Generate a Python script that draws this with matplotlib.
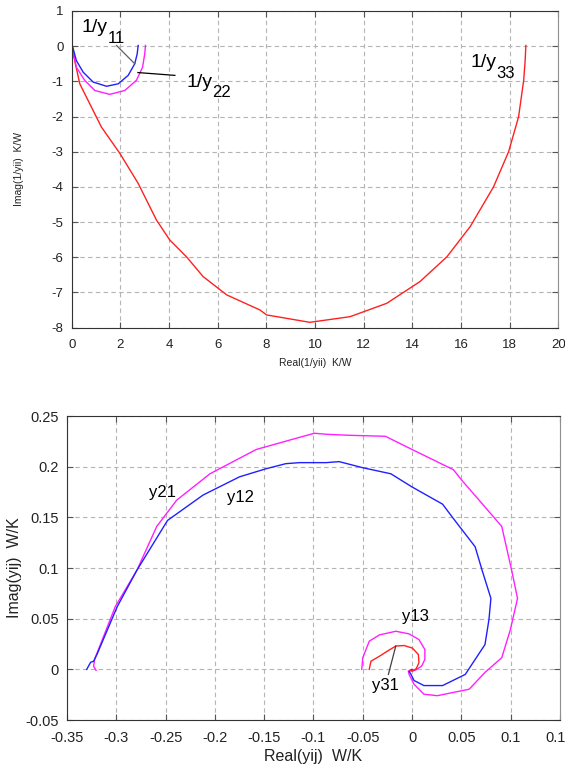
import matplotlib
matplotlib.use("Agg")
import matplotlib.pyplot as plt
from matplotlib.ticker import FuncFormatter, MultipleLocator

plt.rcParams['font.family'] = ['Liberation Sans', 'DejaVu Sans']

# --- obere Grafik: 1/yii ---
y11_re = [0.0, 0.03, 0.19, 0.47, 0.88, 1.43, 1.91, 2.32, 2.59, 2.69, 2.73]
y11_im = [-0.02, 0.0, -0.41, -0.74, -1.02, -1.14, -1.07, -0.83, -0.50, -0.22, 0.02]

y22_re = [0.0, 0.03, 0.19, 0.53, 0.95, 1.56, 2.18, 2.66, 2.91, 3.00, 3.03]
y22_im = [-0.02, -0.05, -0.60, -0.97, -1.26, -1.37, -1.26, -0.97, -0.60, -0.22, 0.02]

y33_re = [0.0, 0.33, 1.22, 1.98, 2.73, 3.48, 4.03, 4.72, 5.40, 6.37, 7.74, 8.01,
          9.79, 11.44, 12.95, 14.32, 15.42, 16.38, 17.34, 17.96, 18.37, 18.58, 18.64, 18.67]
y33_im = [-0.03, -1.07, -2.30, -3.05, -3.90, -4.94, -5.51, -5.99, -6.55, -7.07, -7.50, -7.64,
          -7.85, -7.69, -7.31, -6.69, -5.99, -5.13, -4.00, -3.00, -2.01, -0.97, -0.41, 0.02]

# --- untere Grafik: yij ---
y12_re = [-0.330, -0.326, -0.323, -0.3195, -0.299, -0.279, -0.248, -0.212, -0.175, -0.148,
          -0.128, -0.114, -0.087, -0.074, -0.050, -0.0215, 0.0, 0.031, 0.041, 0.064, 0.071,
          0.080, 0.078, 0.074, 0.054, 0.031, 0.012, 0.002, -0.001, -0.003, 0.0]
y12_im = [0.0, 0.007, 0.008, 0.015, 0.062, 0.098, 0.147, 0.172, 0.190, 0.198,
          0.203, 0.204, 0.204, 0.205, 0.199, 0.193, 0.180, 0.163, 0.150, 0.121, 0.098,
          0.070, 0.049, 0.0245, -0.005, -0.016, -0.016, -0.011, -0.005, -0.002, 0.0]

y21_re = [-0.3205, -0.323, -0.322, -0.301, -0.279, -0.259, -0.2387, -0.205, -0.158, -0.114,
          -0.099, -0.087, -0.064, -0.027, 0.0, 0.042, 0.051, 0.068, 0.091, 0.101,
          0.107, 0.0997, 0.091, 0.074, 0.058, 0.0256, 0.012, 0.002, -0.003, -0.0037]
y21_im = [-0.001, 0.003, 0.010, 0.062, 0.098, 0.141, 0.167, 0.193, 0.217, 0.229,
          0.233, 0.232, 0.231, 0.230, 0.217, 0.197, 0.186, 0.167, 0.141, 0.098,
          0.070, 0.039, 0.0115, -0.003, -0.0196, -0.026, -0.0245, -0.0147, -0.005, -0.0017]

y13_re = [-0.051, -0.050, -0.0434, -0.033, -0.0165, -0.003, 0.007, 0.013, 0.013, 0.0098,
          0.0037, 0.0]
y13_im = [0.0, 0.0114, 0.0278, 0.034, 0.0376, 0.035, 0.0294, 0.0196, 0.0098, 0.0033,
          -0.0007, -0.0017]

y31_re = [-0.0434, -0.0417, -0.033, -0.025, -0.0165, -0.008, 0.0003, 0.0064, 0.007, 0.0043,
          0.0, -0.002]
y31_im = [0.0, 0.008, 0.013, 0.018, 0.023, 0.0235, 0.021, 0.0147, 0.0065, 0.0007,
          -0.0017, -0.001]

red = '#ff2020'
blue = '#2020ff'
magenta = '#ff20ff'
fmt = FuncFormatter(lambda v, p: '%g' % round(v, 4))


def style(ax, fs, xpad, ypad):
    ax.grid(True, color='#b4b4b4', linestyle=(0, (4, 3)), linewidth=0.8)
    ax.set_axisbelow(True)
    ax.tick_params(direction='in', length=4, top=True, right=True,
                   labelsize=fs, labelcolor='#222222', color='#555555')
    ax.tick_params(axis='x', pad=xpad)
    ax.tick_params(axis='y', pad=ypad)
    for s in ['left', 'bottom', 'top']:
        ax.spines[s].set_color('#333333')
    ax.spines['right'].set_color('#909090')
    ax.xaxis.set_major_formatter(fmt)
    ax.yaxis.set_major_formatter(fmt)


def sublabel(ax, x, y, main, sub):
    ax.text(x, y, main, fontsize=14, va='baseline', ha='left')
    ax.annotate(sub, xy=(x, y), xytext=(18.5, -7.5), textcoords='offset points',
                fontsize=12, va='baseline', ha='left')


fig = plt.figure(figsize=(5.65, 7.69), dpi=100)

# obere Grafik
ax1 = fig.add_axes([0.127, 0.574, 0.861, 0.4117])
ax1.plot(y33_re, y33_im, color=red, lw=1)
ax1.plot(y22_re, y22_im, color=magenta, lw=1)
ax1.plot(y11_re, y11_im, color=blue, lw=1)
ax1.plot([1.84, 2.59], [0.02, -0.50], color='#606060', lw=0.9)
ax1.plot([2.72, 4.24], [-0.75, -0.83], color='black', lw=0.9)
sublabel(ax1, 0.41, 0.39, '1/y', '11')
sublabel(ax1, 4.73, -1.15, '1/y', '22')
sublabel(ax1, 16.38, -0.60, '1/y', '33')
ax1.set_xlim(0, 20)
ax1.set_ylim(-8, 1)
ax1.xaxis.set_major_locator(MultipleLocator(2))
ax1.yaxis.set_major_locator(MultipleLocator(1))
style(ax1, 9.5, 8, 6)
ax1.set_xlabel('Real(1/yii)  K/W', fontsize=7.5, color='#222222', labelpad=5)
ax1.set_ylabel('Imag(1/yii)  K/W', fontsize=7.5, color='#222222', labelpad=20)

# untere Grafik
ax2 = fig.add_axes([0.1186, 0.0637, 0.8724, 0.3953])
ax2.plot(y21_re, y21_im, color=magenta, lw=1)
ax2.plot(y12_re, y12_im, color=blue, lw=1)
ax2.plot(y13_re, y13_im, color=magenta, lw=1)
ax2.plot(y31_re, y31_im, color=red, lw=1)
ax2.plot([-0.0165, -0.024], [0.023, -0.005], color='#404040', lw=0.9)
ax2.text(-0.2535, 0.1748, 'y21', fontsize=12, ha='center', va='center')
ax2.text(-0.1745, 0.170, 'y12', fontsize=12, ha='center', va='center')
ax2.text(0.003, 0.052, 'y13', fontsize=12, ha='center', va='center')
ax2.text(-0.027, -0.016, 'y31', fontsize=12, ha='center', va='center')
ax2.set_xlim(-0.35, 0.15)
ax2.set_ylim(-0.05, 0.25)
ax2.xaxis.set_major_locator(MultipleLocator(0.05))
ax2.yaxis.set_major_locator(MultipleLocator(0.05))
style(ax2, 10.5, 8, 6)
ax2.set_xlabel('Real(yij)  W/K', fontsize=11.5, color='#222222', labelpad=3)
ax2.set_ylabel('Imag(yij)  W/K', fontsize=11.5, color='#222222', labelpad=2)

fig.savefig('out.png', dpi=100)
